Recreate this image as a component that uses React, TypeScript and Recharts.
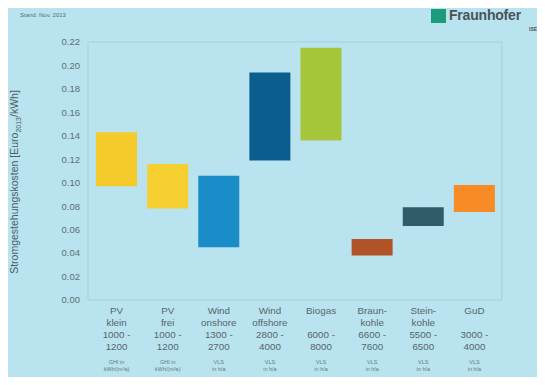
import { BarChart, Bar, XAxis, YAxis, CartesianGrid, Cell, Label } from "recharts"

const categories = ["PV klein", "PV frei", "Wind onshore", "Wind offshore", "Biogas", "Braunkohle", "Steinkohle", "GuD"]
const labelLine1 = ["PV", "PV", "Wind", "Wind", "Biogas", "Braun-", "Stein-", "GuD"]
const labelLine2 = ["klein", "frei", "onshore", "offshore", "", "kohle", "kohle", ""]
const rangeFrom = ["1000 -", "1000 -", "1300 -", "2800 -", "6000 -", "6600 -", "5500 -", "3000 -"]
const rangeTo = ["1200", "1200", "2700", "4000", "8000", "7600", "6500", "4000"]
const noteLine1 = ["GHI in", "GHI in", "VLS", "VLS", "VLS", "VLS", "VLS", "VLS"]
const noteLine2 = ["kWh/(m²a)", "kWh/(m²a)", "in h/a", "in h/a", "in h/a", "in h/a", "in h/a", "in h/a"]

// cost ranges in Euro/kWh
const costLow = [0.097, 0.078, 0.045, 0.119, 0.136, 0.038, 0.063, 0.075]
const costHigh = [0.143, 0.116, 0.106, 0.194, 0.215, 0.052, 0.079, 0.098]

const barColors = ["#f5cb2c", "#f6d030", "#1a8dc9", "#0b5e8e", "#a5c63b", "#b25327", "#2e5c68", "#f98b27"]

const yTicks = [0, 0.02, 0.04, 0.06, 0.08, 0.1, 0.12, 0.14, 0.16, 0.18, 0.2, 0.22]

const data = categories.map((name, i) => ({ name, range: [costLow[i], costHigh[i]] }))

const FONT = "'Liberation Sans', Arial, sans-serif"

function CategoryTick({ x, y, index }: { x?: number; y?: number; index?: number }) {
  const i = index ?? 0
  const cx = x ?? 0
  const top = (y ?? 0) + 6
  const main = { fill: "#56666c", fontSize: 9.8, textAnchor: "middle" as const, fontFamily: FONT }
  const small = { fill: "#6a7a80", fontSize: 5.5, textAnchor: "middle" as const, fontFamily: FONT }
  return (
    <g>
      <text x={cx} y={top} {...main}>{labelLine1[i]}</text>
      <text x={cx} y={top + 12} {...main}>{labelLine2[i]}</text>
      <text x={cx} y={top + 24} {...main}>{rangeFrom[i]}</text>
      <text x={cx} y={top + 36} {...main}>{rangeTo[i]}</text>
      <text x={cx} y={top + 50} {...small}>{noteLine1[i]}</text>
      <text x={cx} y={top + 57} {...small}>{noteLine2[i]}</text>
    </g>
  )
}

function AxisTitle() {
  return (
    <text
      transform="translate(18, 182) rotate(-90)"
      textAnchor="middle"
      fill="#4f5f66"
      fontSize={10.5}
      fontFamily={FONT}
    >
      Stromgestehungskosten [Euro
      <tspan fontSize={7} dy={3}>2013</tspan>
      <tspan dy={-3}>/kWh]</tspan>
    </text>
  )
}

export default function App() {
  const tickStyle = { fill: "#5f6f75", fontSize: 9.5, fontFamily: FONT }
  return (
    <div style={{ position: "relative", width: 545, height: 385, margin: -8, background: "#e4f4f8", fontFamily: FONT, overflow: "hidden" }}>
      <div style={{ position: "absolute", left: 7, top: 4, width: 538, height: 381, background: "#b9e3ee" }} />
      <div style={{ position: "absolute", left: 20, top: 12, fontSize: 6, color: "#5a6a70" }}>Stand: Nov. 2013</div>
      <div style={{ position: "absolute", left: 431, top: 9, width: 15, height: 14, background: "#1b9c7a" }} />
      <div style={{ position: "absolute", left: 449, top: 7, fontSize: 14, fontWeight: "bold", color: "#4a5458", letterSpacing: -0.2 }}>
        Fraunhofer
      </div>
      <div style={{ position: "absolute", left: 529, top: 26, fontSize: 5, fontWeight: "bold", color: "#4a5458" }}>ISE</div>
      <div style={{ position: "absolute", left: 0, top: 0 }}>
        <BarChart width={545} height={385} data={data} margin={{ top: 42, right: 0, bottom: 0, left: 0 }} barSize={41}>
          <CartesianGrid vertical={false} stroke="#9fd1dc" strokeWidth={1} />
          <XAxis
            dataKey="name"
            height={85}
            interval={0}
            padding={{ left: 3, right: 2 }}
            axisLine={false}
            tickLine={false}
            tick={<CategoryTick />}
          />
          <YAxis
            yAxisId="left"
            width={88}
            domain={[0, 0.22]}
            ticks={yTicks}
            tickFormatter={(v: number) => v.toFixed(2)}
            tick={tickStyle}
            axisLine={{ stroke: "#9fd1dc" }}
            tickLine={false}
            tickSize={0}
            tickMargin={8}
          >
            <Label content={<AxisTitle />} />
          </YAxis>
          <YAxis
            yAxisId="right"
            orientation="right"
            width={43}
            domain={[0, 0.22]}
            ticks={yTicks}
            tickFormatter={(v: number) => v.toFixed(2)}
            tick={tickStyle}
            axisLine={{ stroke: "#9fd1dc" }}
            tickLine={false}
            tickSize={0}
            tickMargin={10}
          />
          <Bar yAxisId="left" dataKey="range" isAnimationActive={false}>
            {data.map((d, i) => (
              <Cell key={d.name} fill={barColors[i]} />
            ))}
          </Bar>
        </BarChart>
      </div>
    </div>
  )
}
